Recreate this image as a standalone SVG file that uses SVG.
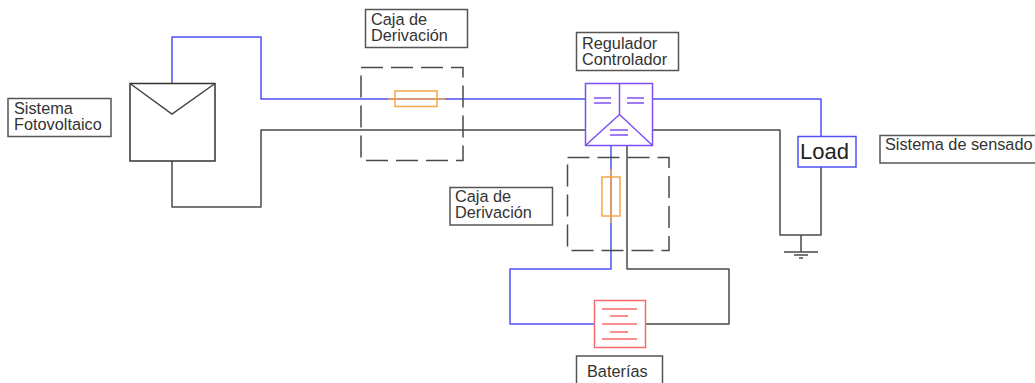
<svg xmlns="http://www.w3.org/2000/svg" width="1035" height="383" viewBox="0 0 1035 383">
<style>
.w{fill:none;stroke-width:1.500;stroke-linejoin:round}
.b{stroke:#5050f5}.k{stroke:#4a4a4a}.o{fill:none;stroke:#f5a64a;stroke-width:1.500}
.v{fill:none;stroke:#8050f5;stroke-width:1.500}
.r{fill:none;stroke:#f56a6a;stroke-width:1.500}
.box{fill:#fff;stroke:#555;stroke-width:1.500}
.d{fill:none;stroke:#4a4a4a;stroke-width:1.500;stroke-dasharray:22 8}
text{font-family:"Liberation Sans",Arial,sans-serif;font-size:16.300px;fill:#333}
</style>
<rect width="1035" height="383" fill="#fff"/>
<g id="connectors">
<path class="w b" d="M172 83V37H261V99H586"/>
<path class="w k" d="M172 161V207H261V130H586"/>
<path class="w b" d="M653 99H821V137"/>
<path class="w k" d="M653 130H780V235H821V167"/>
<path class="w k" d="M801 235V252M784 252H818M794 255H808M799 258H803"/>
<path class="w b" d="M611 146V269H510V324H595"/>
<path class="w k" d="M627 146V269H729V324H645"/>
</g>
<g id="panel">
<rect x="130" y="83.500" width="85" height="77.500" fill="#fff" stroke="#333" stroke-width="1.500"/>
<path d="M130 83.500L172 114L215 83.500" fill="none" stroke="#444" stroke-width="1.500"/>
</g>
<g id="label-fv"><rect class="box" x="8" y="98.500" width="103" height="38"/><text x="14" y="114">Sistema</text><text x="14" y="130">Fotovoltaico</text></g>
<g id="label-caja1"><rect class="box" x="365.500" y="9.500" width="102" height="38"/><text x="371" y="25">Caja de</text><text x="371" y="41">Derivación</text></g>
<g id="caja1"><rect class="d" x="361" y="67.500" width="102" height="93"/>
<path class="o" d="M388 99H445"/><rect class="o" x="395" y="91" width="42" height="15.500"/></g>
<g id="label-reg"><rect class="box" x="576.500" y="32.500" width="102" height="38"/><text x="582" y="48.500">Regulador</text><text x="582" y="64.500">Controlador</text></g>
<g id="regulador"><rect x="585.500" y="83.500" width="67" height="62" fill="#fff" stroke="#7a50f5" stroke-width="1.500"/>
<path class="v" d="M619.500 83.500V114.500L586 145M619.500 114.500L652 145M594 98H611M594 103H611M627 98H644M627 103H644M610 130H628M610 135H628"/></g>
<g id="label-caja2"><rect class="box" x="450" y="187.500" width="102.500" height="37.500"/><text x="455" y="201.500">Caja de</text><text x="455" y="217.500">Derivación</text></g>
<g id="caja2"><rect class="d" x="567.500" y="157.500" width="101.500" height="93"/>
<path class="o" d="M611 169V223"/><rect class="o" x="602" y="177" width="18" height="39"/></g>
<g id="baterias"><rect x="594.500" y="300.500" width="51" height="47" fill="#fff" stroke="#f56a6a" stroke-width="1.500"/>
<path class="r" d="M602 309H637M610 316H628M602 324H637M610 332H628M602 339H637"/></g>
<g id="label-bat"><rect class="box" x="576.500" y="356" width="86" height="30"/><text x="587" y="377">Baterías</text></g>
<g id="load"><rect x="798" y="136.500" width="58" height="30.500" fill="#fff" stroke="#5050f5" stroke-width="1.500"/><text x="800" y="159" style="font-size:22px;fill:#222">Load</text></g>
<g id="label-sensado"><rect class="box" x="880" y="135.500" width="165" height="27.500"/><text x="885" y="150">Sistema de sensado</text></g>
</svg>
